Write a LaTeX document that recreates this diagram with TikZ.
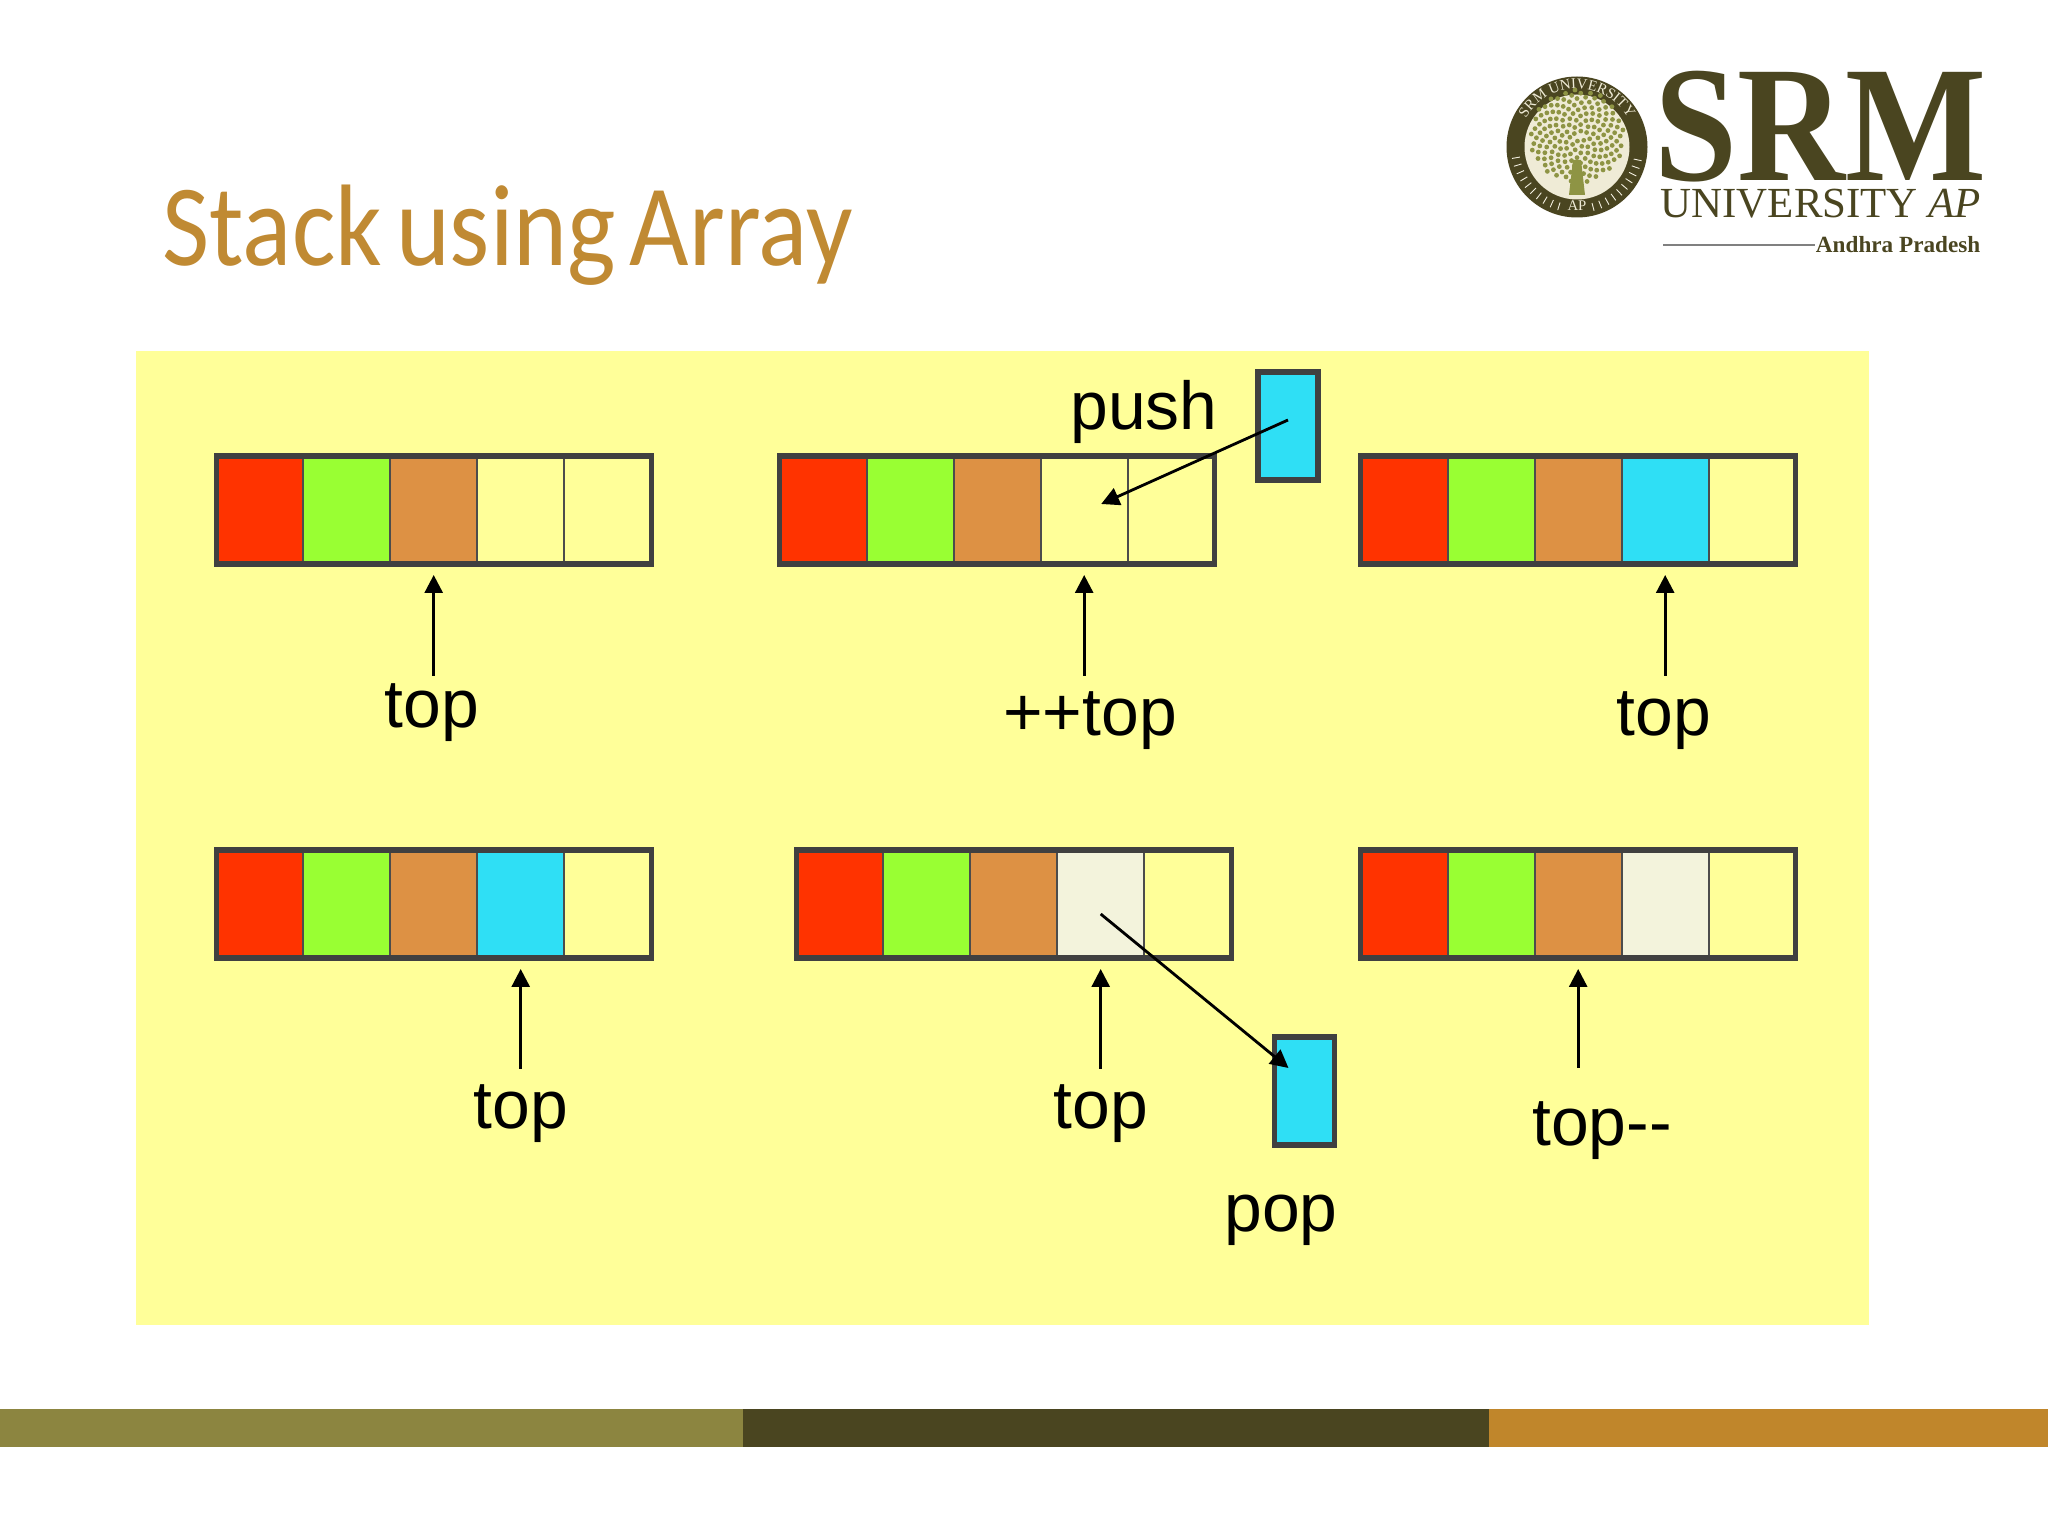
\documentclass[tikz,border=0pt]{standalone}
\usepackage{fontspec}
\setmainfont{Liberation Sans}
\newfontfamily\titlefont[WordSpace=0.6]{Carlito}
\newfontfamily\logofont{Liberation Serif}
\usetikzlibrary{positioning, arrows.meta, fit, decorations.text}

\definecolor{panelyellow}{HTML}{FFFF99}
\definecolor{cellred}{HTML}{FF3300}
\definecolor{cellgreen}{HTML}{99FF33}
\definecolor{cellorange}{HTML}{DD9144}
\definecolor{cellblue}{HTML}{2FDFF5}
\definecolor{cellpale}{HTML}{F3F3DC}
\definecolor{titlegold}{HTML}{C08A33}
\definecolor{logodark}{HTML}{4A4520}
\definecolor{logocream}{HTML}{EFEBD6}
\definecolor{logoleaf}{HTML}{8E9444}
\definecolor{bandolive}{HTML}{8C8540}
\definecolor{bandgold}{HTML}{C0862B}

\begin{document}
\begin{tikzpicture}[
        cell/.style={rectangle, draw=black!70, line width=0.5pt, inner sep=0pt,
          outer sep=0pt, minimum width=0.87cm, minimum height=1.08cm},
        frame/.style={rectangle, draw=black!75, line width=1.5pt, inner sep=0pt},
        box/.style={rectangle, draw=black!75, line width=1.5pt, fill=cellblue,
          minimum width=0.6cm, minimum height=1.08cm},
        label/.style={font=\fontsize{19.3}{22}\selectfont, inner sep=1pt},
        line/.style={draw, -{Triangle[length=0.18cm, width=0.18cm]}, line width=0.8pt},
        logotext/.style={text=logodark, inner sep=0pt, font=\logofont}
      ]
      \useasboundingbox (0, 0) rectangle (20.48, -15.36);
      \fill[white] (0, 0) rectangle (20.48, -15.36);

      % title and panel
      \node[text=titlegold, font=\titlefont\fontsize{33}{36}\selectfont,
      anchor=base west, inner sep=0pt, xscale=0.885] (title) at (1.62, -2.66)
      {Stack using Array};
      \fill[panelyellow] (1.36, -3.51) rectangle (18.69, -13.25);

      % row 1
      \node [cell, fill=cellred] (a1) at (2.597, -5.1) {};
      \node [cell, fill=cellgreen, right=0pt of a1] (a2) {};
      \node [cell, fill=cellorange, right=0pt of a2] (a3) {};
      \node [cell, right=0pt of a3] (a4) {};
      \node [cell, right=0pt of a4] (a5) {};
      \node [frame, fit=(a1)(a5)] (a_frame) {};

      \node [cell, fill=cellred] (b1) at (8.232, -5.1) {};
      \node [cell, fill=cellgreen, right=0pt of b1] (b2) {};
      \node [cell, fill=cellorange, right=0pt of b2] (b3) {};
      \node [cell, right=0pt of b3] (b4) {};
      \node [cell, right=0pt of b4] (b5) {};
      \node [frame, fit=(b1)(b5)] (b_frame) {};

      \node [cell, fill=cellred] (c1) at (14.042, -5.1) {};
      \node [cell, fill=cellgreen, right=0pt of c1] (c2) {};
      \node [cell, fill=cellorange, right=0pt of c2] (c3) {};
      \node [cell, fill=cellblue, right=0pt of c3] (c4) {};
      \node [cell, right=0pt of c4] (c5) {};
      \node [frame, fit=(c1)(c5)] (c_frame) {};

      % row 2
      \node [cell, fill=cellred] (d1) at (2.597, -9.04) {};
      \node [cell, fill=cellgreen, right=0pt of d1] (d2) {};
      \node [cell, fill=cellorange, right=0pt of d2] (d3) {};
      \node [cell, fill=cellblue, right=0pt of d3] (d4) {};
      \node [cell, right=0pt of d4] (d5) {};
      \node [frame, fit=(d1)(d5)] (d_frame) {};

      \node [cell, fill=cellred] (e1) at (8.397, -9.04) {};
      \node [cell, fill=cellgreen, right=0pt of e1] (e2) {};
      \node [cell, fill=cellorange, right=0pt of e2] (e3) {};
      \node [cell, fill=cellpale, right=0pt of e3] (e4) {};
      \node [cell, right=0pt of e4] (e5) {};
      \node [frame, fit=(e1)(e5)] (e_frame) {};

      \node [cell, fill=cellred] (f1) at (14.042, -9.04) {};
      \node [cell, fill=cellgreen, right=0pt of f1] (f2) {};
      \node [cell, fill=cellorange, right=0pt of f2] (f3) {};
      \node [cell, fill=cellpale, right=0pt of f3] (f4) {};
      \node [cell, right=0pt of f4] (f5) {};
      \node [frame, fit=(f1)(f5)] (f_frame) {};

      % labels
      \node [label] (a_top) at (4.32, -7.13) {top};
      \node [label] (b_top) at (10.9, -7.21) {++top};
      \node [label] (c_top) at (16.64, -7.21) {top};
      \node [label] (d_top) at (5.21, -11.14) {top};
      \node [label] (e_top) at (11.01, -11.14) {top};
      \node [label] (f_top) at (16.02, -11.31) {top-{}-};
      \node [label] (push_label) at (11.44, -4.12) {push};
      \node [label] (pop_label) at (12.81, -12.2) {pop};

      \node [box] (push_box) at (12.88, -4.26) {};
      \node [box] (pop_box) at (13.045, -10.91) {};

      % connectors
      \path [line, shorten >=0.11cm, shorten <=0.04cm] (a_top.north -| a3.south) -- (a3.south);
      \path [line, shorten >=0.11cm, shorten <=0.12cm] (b_top.north -| b4.south) -- (b4.south);
      \path [line, shorten >=0.11cm, shorten <=0.12cm] (c_top.north -| c4.south) -- (c4.south);
      \path [line, shorten >=0.11cm, shorten <=0.12cm] (d_top.north -| d4.south) -- (d4.south);
      \path [line, shorten >=0.11cm, shorten <=0.12cm] (e_top.north -| e4.south) -- (e4.south);
      \path [line, shorten >=0.11cm, shorten <=0.3cm] (f_top.north -| f3.south) -- (f3.south);
      \path [line] ([yshift=0.06cm]push_box.center) -- ([shift={(0.17, 0.06)}]b4.center);
      \path [line] ([yshift=-0.1cm]e4.center) -- ([shift={(-0.16, 0.23)}]pop_box.center);

      % bottom bands
      \fill[bandolive] (0, -14.09) rectangle (7.43, -14.47);
      \fill[logodark] (7.43, -14.09) rectangle (14.89, -14.47);
      \fill[bandgold] (14.89, -14.09) rectangle (20.48, -14.47);

      % logo
      \fill[logodark] (15.77, -1.47) circle (0.705);
      \fill[logocream] (15.77, -1.47) circle (0.525);
      \foreach \a in {190, 197, ..., 255, 285, 292, ..., 350}
        \draw[logocream!70, line width=0.25pt] (15.77, -1.47) ++(\a:0.58) -- ++(\a:0.08);
      \path[decorate, decoration={text along path, text align=center,
        text={|\logofont\fontsize{4.2}{5}\selectfont\color{logocream}|SRM UNIVERSITY}}]
        (15.77, -1.47) ++(165:0.585) arc (165:15:0.585);
      \node [text=logocream, font=\logofont\fontsize{4.2}{5}\selectfont, inner sep=0pt]
        (seal_ap) at (15.77, -2.06) {AP};
      \foreach \i in {1, ..., 170}
        \fill[logoleaf] (15.77, -1.36) ++({mod(13.75*\i,36)*10}:{0.47*sqrt(\i/170)}) circle (0.024);
      \fill[logoleaf] (15.69, -1.95) -- (15.85, -1.95) -- (15.81, -1.6) -- (15.73, -1.6) -- cycle;

      \node [logotext, font=\logofont\bfseries\fontsize{47}{50}\selectfont, anchor=base west,
      xscale=0.905] (srm_name) at (16.54, -1.81) {SRM};
      \node [logotext, font=\logofont\fontsize{12.2}{14}\selectfont, anchor=base west]
      (srm_univ) at (16.6, -2.18) {UNIVERSITY \textit{AP}};
      \node [logotext, font=\logofont\bfseries\fontsize{6.6}{8}\selectfont, anchor=base east]
      (srm_state) at (19.81, -2.53) {Andhra Pradesh};
      \draw[gray, line width=0.6pt] (srm_state.west) ++(-1.52, 0) -- (srm_state.west);
    \end{tikzpicture}
\end{document}
